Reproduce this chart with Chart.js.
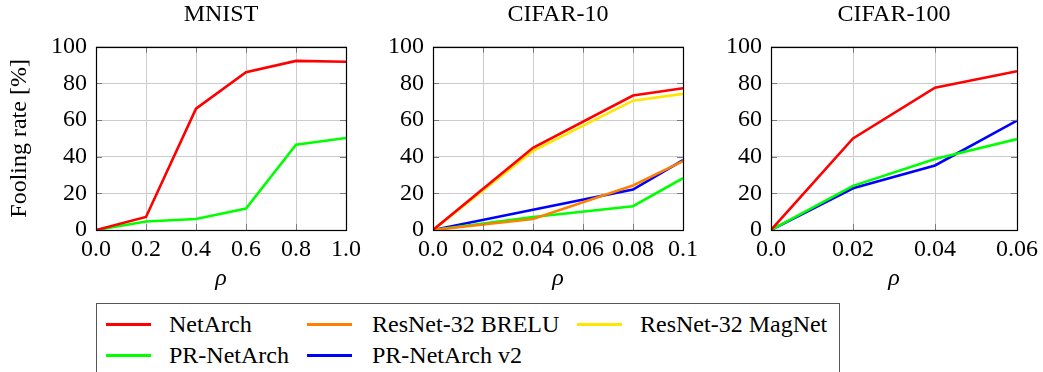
<!DOCTYPE html>
<html>
<head>
<meta charset="utf-8">
<script src="https://cdn.jsdelivr.net/npm/chart.js@4.4.1/dist/chart.umd.min.js"></script>
<style>
  html, body { margin: 0; padding: 0; background: #fff; }
  body { width: 1043px; height: 372px; position: relative; overflow: hidden; font-family: "Liberation Serif", "Times New Roman", serif; }
  .cv { position: absolute; top: 0; }
  #legend { position: absolute; left: 96px; top: 303px; width: 744px; height: 90px; border: 1px solid #555; box-sizing: border-box; }
  .item { position: absolute; font-size: 24px; color: #000; white-space: nowrap; line-height: 1; }
  .swatch { position: absolute; height: 3px; width: 45px; }
</style>
</head>
<body>
<canvas id="c1" class="cv" style="left:0px" width="372" height="300"></canvas>
<canvas id="c2" class="cv" style="left:372px" width="336" height="300"></canvas>
<canvas id="c3" class="cv" style="left:708px" width="335" height="300"></canvas>
<div id="legend"></div>
<script>
// ---------------- data ----------------
const titles = ["MNIST", "CIFAR-10", "CIFAR-100"];
const yTicks = [0, 20, 40, 60, 80, 100];
const yTickLabels = ["0", "20", "40", "60", "80", "100"];

const mnistX = [0, 0.2, 0.4, 0.6, 0.8, 1.0];
const mnistTicks = [0, 0.2, 0.4, 0.6, 0.8, 1.0];
const mnistTickLabels = ["0.0", "0.2", "0.4", "0.6", "0.8", "1.0"];
const mnistNetArch = [0, 7.1, 66.2, 86.1, 92.3, 91.8];
const mnistPRNetArch = [0, 4.6, 6.0, 11.7, 46.5, 50.2];

const cifar10X = [0, 0.04, 0.08, 0.1];
const cifar10Ticks = [0, 0.02, 0.04, 0.06, 0.08, 0.1];
const cifar10TickLabels = ["0.0", "0.02", "0.04", "0.06", "0.08", "0.1"];
const cifar10NetArch = [0, 44.9, 73.4, 77.4];
const cifar10MagNet = [0, 43.2, 70.6, 74.3];
const cifar10BRELU = [0, 6.0, 24.3, 37.6];
const cifar10PRNetArch = [0, 7.1, 13.0, 28.3];
const cifar10PRNetArchV2 = [0, 11.1, 22.1, 38.1];

const cifar100X = [0, 0.02, 0.04, 0.06];
const cifar100Ticks = [0, 0.02, 0.04, 0.06];
const cifar100TickLabels = ["0.0", "0.02", "0.04", "0.06"];
const cifar100NetArch = [0, 50.0, 77.7, 86.7];
const cifar100PRNetArch = [0, 24.1, 38.7, 49.6];
const cifar100PRNetArchV2 = [0, 22.8, 35.2, 59.7];

const seriesNames = ["NetArch", "PR-NetArch", "ResNet-32 BRELU", "PR-NetArch v2", "ResNet-32 MagNet"];
const seriesColors = { "NetArch": "#ff0000", "PR-NetArch": "#00ff00", "ResNet-32 BRELU": "#ff8000", "PR-NetArch v2": "#0000ff", "ResNet-32 MagNet": "#ffe600" };

// ---------------- rendering ----------------
const FONT = '"Liberation Serif", "Times New Roman", serif';
const FS = 24;
Chart.defaults.font.family = FONT;
Chart.defaults.font.size = FS;
Chart.defaults.color = '#000';

const boxPlugin = {
  id: 'box',
  afterDatasetsDraw(chart) {
    const { ctx, chartArea: a, scales } = chart;
    ctx.save();
    ctx.strokeStyle = '#7a7a7a';
    ctx.lineWidth = 1;
    const tl = 6;
    ctx.beginPath();
    scales.x.ticks.forEach(t => {
      const px = Math.round(scales.x.getPixelForValue(t.value)) + 0.5;
      ctx.moveTo(px, a.top); ctx.lineTo(px, a.top + tl);
      ctx.moveTo(px, a.bottom); ctx.lineTo(px, a.bottom - tl);
    });
    scales.y.ticks.forEach(t => {
      const py = Math.round(scales.y.getPixelForValue(t.value)) + 0.5;
      ctx.moveTo(a.left, py); ctx.lineTo(a.left + tl, py);
      ctx.moveTo(a.right, py); ctx.lineTo(a.right - tl, py);
    });
    ctx.stroke();
    ctx.strokeStyle = '#000';
    ctx.lineWidth = 1.2;
    ctx.strokeRect(Math.round(a.left) + 0.5, Math.round(a.top) + 0.5, Math.round(a.right - a.left), Math.round(a.bottom - a.top));
    ctx.restore();
  }
};

function makeChart(id, title, xs, ticks, tickLabels, series, cfg) {
  const datasets = series.map(([name, ys]) => ({
    label: name,
    data: xs.map((x, i) => ({ x: x, y: ys[i] })),
    borderColor: seriesColors[name],
    backgroundColor: seriesColors[name],
    borderWidth: 2.6,
    pointRadius: 0,
    tension: 0,
    fill: false
  }));
  return new Chart(document.getElementById(id), {
    type: 'line',
    data: { datasets },
    plugins: [boxPlugin],
    options: {
      responsive: false,
      animation: false,
      events: [],
      layout: { padding: { left: cfg.padLeft, right: cfg.padRight, top: 0, bottom: 0 } },
      plugins: {
        legend: { display: false },
        tooltip: { enabled: false },
        title: { display: true, fullSize: false, text: title, color: '#000', font: { family: FONT, size: FS, weight: 'normal' }, padding: { top: 0, bottom: 18 } }
      },
      scales: {
        x: {
          type: 'linear',
          min: ticks[0],
          max: ticks[ticks.length - 1],
          afterBuildTicks: s => { s.ticks = ticks.map(v => ({ value: v })); },
          afterFit: s => { s.height = 70; },
          ticks: {
            color: '#000', font: { family: FONT, size: FS }, padding: 5, maxRotation: 0, autoSkip: false,
            callback: (v, i) => tickLabels[i]
          },
          grid: { color: '#cccccc', lineWidth: 1, drawTicks: false },
          border: { display: false },
          title: { display: true, text: 'ρ', color: '#000', font: { family: FONT, size: FS, style: 'italic' }, padding: { top: 0, bottom: 7 } }
        },
        y: {
          type: 'linear',
          min: 0, max: 100,
          afterBuildTicks: s => { s.ticks = yTicks.map(v => ({ value: v })); },
          afterFit: s => { s.width = cfg.yWidth; },
          ticks: {
            color: '#000', font: { family: FONT, size: FS }, padding: 9,
            callback: (v, i) => yTickLabels[i]
          },
          grid: { color: '#cccccc', lineWidth: 1, drawTicks: false },
          border: { display: false },
          title: { display: cfg.yTitle, text: 'Fooling rate [%]', color: '#000', font: { family: FONT, size: FS }, padding: { top: 5, bottom: 0 } }
        }
      }
    }
  });
}

makeChart('c1', titles[0], mnistX, mnistTicks, mnistTickLabels,
  [["NetArch", mnistNetArch], ["PR-NetArch", mnistPRNetArch]],
  { padLeft: 0, padRight: 26, yWidth: 96, yTitle: true });

makeChart('c2', titles[1], cifar10X, cifar10Ticks, cifar10TickLabels,
  [["NetArch", cifar10NetArch], ["ResNet-32 MagNet", cifar10MagNet], ["ResNet-32 BRELU", cifar10BRELU], ["PR-NetArch", cifar10PRNetArch], ["PR-NetArch v2", cifar10PRNetArchV2]],
  { padLeft: 0, padRight: 25, yWidth: 61, yTitle: false });

makeChart('c3', titles[2], cifar100X, cifar100Ticks, cifar100TickLabels,
  [["NetArch", cifar100NetArch], ["PR-NetArch", cifar100PRNetArch], ["PR-NetArch v2", cifar100PRNetArchV2]],
  { padLeft: 0, padRight: 21, yWidth: 63, yTitle: false });

// ---------------- legend ----------------
const legendLayout = [
  ["NetArch", 9, 20, 72],
  ["ResNet-32 BRELU", 210, 20, 275],
  ["ResNet-32 MagNet", 480, 20, 543],
  ["PR-NetArch", 9, 51, 72],
  ["PR-NetArch v2", 210, 51, 275]
];
const leg = document.getElementById('legend');
legendLayout.forEach(([name, sx, sy, tx]) => {
  const sw = document.createElement('div');
  sw.className = 'swatch';
  sw.style.left = sx + 'px'; sw.style.top = (sy - 1.5) + 'px';
  sw.style.background = seriesColors[name];
  leg.appendChild(sw);
  const t = document.createElement('div');
  t.className = 'item';
  t.style.left = tx + 'px'; t.style.top = (sy - 12) + 'px';
  t.textContent = name;
  leg.appendChild(t);
});
</script>
</body>
</html>
